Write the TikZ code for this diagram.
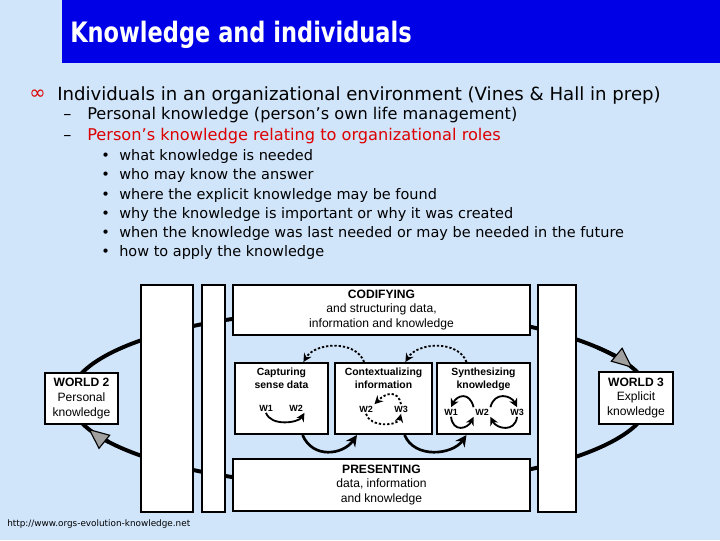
\documentclass[tikz,border=0pt]{standalone}
\usepackage{fontspec}
\usepackage{tikz}
\usetikzlibrary{arrows.meta, positioning, calc}
\newfontfamily\slidefont{DejaVu Sans}
\newfontfamily\titlefont[FakeStretch=0.8]{DejaVu Sans}
\newfontfamily\diagfont{Liberation Sans}
\definecolor{slidesky}{HTML}{D0E4FA}
\definecolor{titleblue}{HTML}{0000E6}
\definecolor{rolered}{HTML}{DD0000}
\definecolor{tipgray}{HTML}{A0A0A0}
\newcommand{\pxs}{0.025cm}

\begin{document}
\begin{tikzpicture}[x=\pxs, y=-\pxs,
  box/.style={draw=black, fill=white, line width=1.4pt, inner sep=0pt},
  sz/.style 2 args={minimum width=#1*\pxs, minimum height=#2*\pxs},
  boxtext/.style={font=\diagfont\fontsize{8.6}{10.4}\selectfont, align=center},
  subtitle/.style={font=\diagfont\bfseries\fontsize{7.4}{9.2}\selectfont, align=center, inner sep=0pt},
  wlabel/.style={font=\diagfont\bfseries\fontsize{6.4}{7}\selectfont, inner sep=1pt},
  loopline/.style={line width=2.8pt},
  looptip/.style={-{Triangle[length=15pt, width=13pt, line width=0.8pt, fill=tipgray]}},
  thinarrow/.style={line width=1.3pt, -{Stealth[length=6pt, width=6pt]}},
  dotarrow/.style={thinarrow, dash pattern=on 1.6pt off 1.4pt},
  midarrow/.style={line width=1.9pt, -{Stealth[length=8pt, width=8pt]}},
  slidetext/.style={anchor=base west, inner sep=0pt},
]
  % Slide background
  \useasboundingbox (0,0) rectangle (720,540);
  \fill[slidesky] (0,0) rectangle (720,540);

  % Title bar
  \fill[titleblue] (62,0) rectangle (720,63);
  \node[slidetext, white, font=\titlefont\bfseries\fontsize{20}{20}\selectfont] (title) at (70,42) {Knowledge and individuals};

  % Main bullet
  \node[slidetext, rolered, font=\slidefont\fontsize{14}{14}\selectfont] (leadmark) at (29,99) {∞};
  \node[slidetext, font=\slidefont\fontsize{12.9}{14}\selectfont] (lead) at (57,100) {Individuals in an organizational environment (Vines \& Hall in prep)};

  % Dash lines
  \foreach \ypos/\col/\txt/\nm in {119.5/black/{Personal knowledge (person’s own life management)}/personal,
                                   140.5/rolered/{Person’s knowledge relating to organizational roles}/roles} {
    \node[slidetext, font=\slidefont\fontsize{11.5}{13}\selectfont] (\nm-dash) at (63,\ypos) {–};
    \node[slidetext, \col, font=\slidefont\fontsize{11.5}{13}\selectfont] (\nm) at (87,\ypos) {\txt};
  }

  % Role items
  \foreach \txt [count=\i from 0] in {what knowledge is needed, who may know the answer,
      where the explicit knowledge may be found, why the knowledge is important or why it was created,
      when the knowledge was last needed or may be needed in the future, how to apply the knowledge} {
    \node[slidetext, font=\slidefont\fontsize{10.3}{12}\selectfont] (dot\i) at (101,160.7+19.2*\i) {•};
    \node[slidetext, font=\slidefont\fontsize{10.3}{12}\selectfont] (item\i) at (119,160.7+19.2*\i) {\txt};
  }

  % Footer
  \node[slidetext, font=\slidefont\fontsize{6.3}{7}\selectfont] (site) at (7,526) {http://www.orgs-evolution-knowledge.net};

  % Knowledge loop behind the boxes
  \coordinate (loopc) at (360,398);
  \draw[loopline] (loopc) ellipse [x radius=290, y radius=88];
  \draw[loopline, looptip] ($(loopc)+(150:290 and 88)$) arc [start angle=150, end angle=159.5, x radius=290, y radius=88];
  \draw[loopline, looptip] ($(loopc)+(325:290 and 88)$) arc [start angle=325, end angle=340, x radius=290, y radius=88];

  % Boxes
  \node[box, sz={52}{227}] (persbar) at (167,398.5) {};
  \node[box, sz={23}{227}] (membar) at (213.5,398.5) {};
  \node[box, sz={38}{227}] (explbar) at (557,398.5) {};
  \node[box, boxtext, sz={297}{50}] (codify) at (381.5,310) {\textbf{CODIFYING}\\and structuring data,\\information and knowledge};
  \node[box, boxtext, sz={297}{52}] (present) at (381.5,485) {\textbf{PRESENTING}\\data, information\\and knowledge};
  \node[box, sz={93}{71}] (capture) at (281.5,398.5) {};
  \node[box, sz={97}{71}] (context) at (383.5,398.5) {};
  \node[box, sz={93}{71}] (synth) at (483.5,398.5) {};
  \node[box, boxtext, sz={73}{51}] (world2) at (81.5,398.5) {\textbf{WORLD 2}\\Personal\\knowledge};
  \node[box, boxtext, sz={74}{52}] (world3) at (636,398) {\textbf{WORLD 3}\\Explicit\\knowledge};

  % Box titles
  \node[subtitle, below=0.15cm of capture.north] (capturetitle) {Capturing\\sense data};
  \node[subtitle, below=0.15cm of context.north] (contexttitle) {Contextualizing\\information};
  \node[subtitle, below=0.15cm of synth.north] (synthtitle) {Synthesizing\\knowledge};

  % World labels
  \node[wlabel] (cw1) at (266,408) {W1};
  \node[wlabel] (cw2) at (296,408) {W2};
  \node[wlabel] (xw2) at (366,409) {W2};
  \node[wlabel] (xw3) at (401,409) {W3};
  \node[wlabel] (sw1) at (451,412) {W1};
  \node[wlabel] (sw2) at (482,412) {W2};
  \node[wlabel] (sw3) at (517,412) {W3};

  % Arrows inside boxes
  \draw[thinarrow] (cw1.south) .. controls +(5,14) and +(-6,10) .. (cw2.south east);
  \draw[dotarrow] (xw3.north) .. controls +(-3,-14) and +(12,-12) .. (xw2.north east);
  \draw[dotarrow] (xw2.south) .. controls +(4,14) and +(-3,12) .. (xw3.south);
  \draw[thinarrow] (sw2.north west) .. controls +(-4,-16) and +(6,-12) .. (sw1.north);
  \draw[thinarrow] (sw1.south) .. controls +(2,16) and +(-6,12) .. (sw2.south west);
  \draw[thinarrow] (sw2.north east) .. controls +(4,-16) and +(-6,-12) .. (sw3.north);
  \draw[thinarrow] (sw3.south) .. controls +(-2,16) and +(6,12) .. (sw2.south east);

  % Arrows between boxes
  \draw[dotarrow] (context.118) .. controls +(-8,-22) and +(12,-20) .. (capture.59);
  \draw[dotarrow] (synth.115) .. controls +(-8,-22) and +(12,-20) .. (context.59);
  \draw[midarrow] (capture.-60) .. controls +(10,24) and +(-14,20) .. (context.-126);
  \draw[midarrow] (context.-60) .. controls +(10,24) and +(-14,20) .. (synth.-115);
\end{tikzpicture}
\end{document}
